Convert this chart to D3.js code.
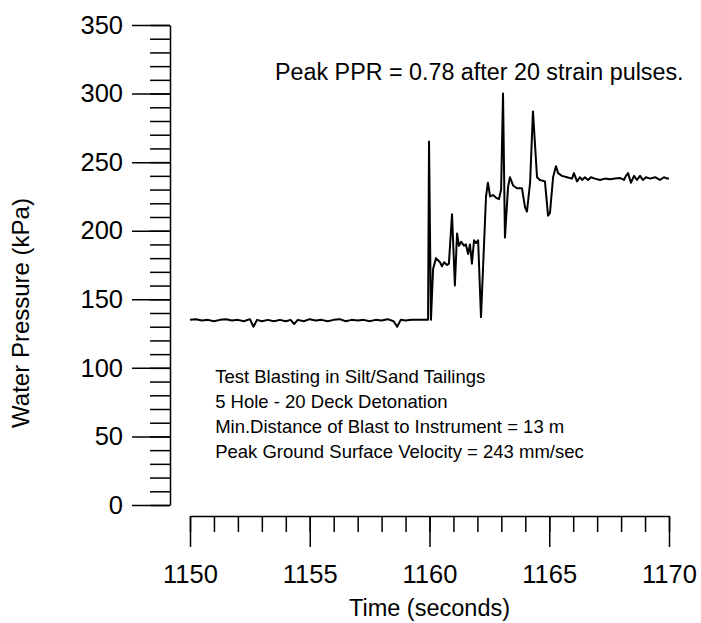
<!DOCTYPE html>
<html>
<head>
<meta charset="utf-8">
<script src="https://cdn.jsdelivr.net/npm/d3@7"></script>
<style>
  body { margin: 0; background: #fff; }
  text { font-family: "Liberation Sans", Arial, sans-serif; fill: #000; }
</style>
</head>
<body>
<div id="chart"><svg></svg></div>
<script>
// data
var times = [1150.0, 1150.25, 1150.5, 1150.75, 1151.0, 1151.25, 1151.5, 1151.75, 1152.0, 1152.25,
  1152.5, 1152.65, 1152.8, 1153.0, 1153.25, 1153.5, 1153.75, 1154.0, 1154.2, 1154.35,
  1154.5, 1154.75, 1155.0, 1155.25, 1155.5, 1155.75, 1156.0, 1156.25, 1156.5, 1156.75,
  1157.0, 1157.25, 1157.5, 1157.75, 1158.0, 1158.25, 1158.5, 1158.65, 1158.8, 1159.0,
  1159.25, 1159.5, 1159.7, 1159.94, 1159.98, 1160.06, 1160.15, 1160.27, 1160.44, 1160.52,
  1160.61, 1160.73, 1160.81, 1160.94, 1161.06, 1161.15, 1161.23, 1161.32, 1161.44, 1161.52,
  1161.61, 1161.69, 1161.77, 1161.86, 1161.94, 1162.03, 1162.15, 1162.36, 1162.44, 1162.53,
  1162.65, 1162.78, 1162.9, 1162.99, 1163.07, 1163.15, 1163.28, 1163.36, 1163.49, 1163.65,
  1163.86, 1163.99, 1164.07, 1164.2, 1164.32, 1164.49, 1164.61, 1164.82, 1164.95, 1165.03,
  1165.16, 1165.28, 1165.37, 1165.53, 1165.74, 1165.95, 1166.03, 1166.16, 1166.28, 1166.37,
  1166.49, 1166.62, 1166.74, 1166.91, 1167.12, 1167.33, 1167.54, 1167.75, 1167.95, 1168.12,
  1168.2, 1168.29, 1168.41, 1168.54, 1168.66, 1168.79, 1168.91, 1169.04, 1169.21, 1169.42,
  1169.62, 1169.79, 1169.92, 1170.0]
var pressures = [135, 135.5, 134.5, 135, 134, 135, 135.5, 134.5, 135, 134,
  135.5, 130, 135, 134, 135, 134, 135, 134, 135, 132,
  135, 134, 135.5, 134.5, 135, 134, 135, 135.5, 134, 135,
  134.5, 135, 134, 135, 134.5, 135.5, 134, 130, 135, 134.5,
  135, 135, 135, 135, 265, 135, 172, 180, 177, 174,
  177, 175, 176, 212, 160, 198, 189, 192, 189, 190,
  183, 190, 176, 193, 191, 193, 137, 225, 235, 225,
  226, 224, 223, 230, 300, 195, 232, 239, 233, 231,
  231, 217, 214, 235, 287, 239, 237, 236, 211, 213,
  239, 247, 242, 240, 239, 238, 242, 236, 239, 237,
  239, 237, 239, 238, 237, 238, 237.5, 238, 238.5, 237,
  240, 242, 235, 240, 237, 240, 237, 239, 238, 239,
  237, 239, 238, 238]

var xTicks = [1150, 1155, 1160, 1165, 1170]
var yTicks = [0, 50, 100, 150, 200, 250, 300, 350]
var xMinor = d3.range(1150, 1171, 1)
var yMinor = d3.range(0, 351, 10)

var peakNote = "Peak PPR = 0.78 after 20 strain pulses."
var infoLines = ["Test Blasting in Silt/Sand Tailings",
  "5 Hole - 20 Deck Detonation",
  "Min.Distance of Blast to Instrument = 13 m",
  "Peak Ground Surface Velocity = 243 mm/sec"]

// sizes
var width = 701
var height = 623

var svg = d3.select("#chart svg")
  .attr("width", width)
  .attr("height", height)

var x = d3.scaleLinear().domain([1150, 1170]).range([190, 669])
var y = d3.scaleLinear().domain([0, 350]).range([505, 25])

var yAxisX = 170
var xAxisY = 516

// y axis: minor ticks then major ticks with labels
svg.append("g")
  .attr("transform", `translate(${yAxisX},0)`)
  .call(d3.axisLeft(y).tickValues(yMinor).tickSize(20).tickSizeOuter(0).tickFormat(""))
  .call(g => g.select(".domain").remove())
  .selectAll("line").attr("stroke-width", 1.5)

var yAxis = svg.append("g")
  .attr("transform", `translate(${yAxisX},0)`)
  .call(d3.axisLeft(y).tickValues(yTicks).tickSize(38).tickSizeOuter(0).tickPadding(9).tickFormat(d3.format("d")))
yAxis.selectAll("line").attr("stroke-width", 1.5)
yAxis.select(".domain").attr("stroke-width", 1.5)
yAxis.selectAll("text")
  .style("font-size", "25.5px")
  .style("font-family", "Liberation Sans, Arial, sans-serif")

// x axis
svg.append("g")
  .attr("transform", `translate(0,${xAxisY})`)
  .call(d3.axisBottom(x).tickValues(xMinor).tickSize(16).tickSizeOuter(0).tickFormat(""))
  .call(g => g.select(".domain").remove())
  .selectAll("line").attr("stroke-width", 1.5)

var xAxis = svg.append("g")
  .attr("transform", `translate(0,${xAxisY})`)
  .call(d3.axisBottom(x).tickValues(xTicks).tickSize(31).tickSizeOuter(0).tickPadding(18).tickFormat(d3.format("d")))
xAxis.selectAll("line").attr("stroke-width", 1.5)
xAxis.select(".domain").attr("stroke-width", 1.5)
xAxis.selectAll("text")
  .style("font-size", "25.5px")
  .style("font-family", "Liberation Sans, Arial, sans-serif")

// axis titles
svg.append("text")
  .attr("x", x(1160))
  .attr("y", 616)
  .attr("text-anchor", "middle")
  .style("font-size", "23.5px")
  .text("Time (seconds)")

svg.append("text")
  .attr("transform", `translate(29,${y(140)}) rotate(-90)`)
  .attr("text-anchor", "middle")
  .style("font-size", "24px")
  .text("Water Pressure (kPa)")

// the record
var line = d3.line()
  .x((d, i) => x(times[i]))
  .y(d => y(d))

svg.append("path")
  .datum(pressures)
  .attr("d", line)
  .attr("fill", "none")
  .attr("stroke", "#000")
  .attr("stroke-width", 2)
  .attr("stroke-linejoin", "round")

// notes
svg.append("text")
  .attr("x", x(1153.55))
  .attr("y", y(310))
  .style("font-size", "23.3px")
  .text(peakNote)

svg.append("g")
  .selectAll("text")
  .data(infoLines)
  .join("text")
  .attr("x", x(1151.05))
  .attr("y", (d, i) => y(89) + i * 25)
  .style("font-size", "18.5px")
  .text(d => d)
</script>
</body>
</html>
